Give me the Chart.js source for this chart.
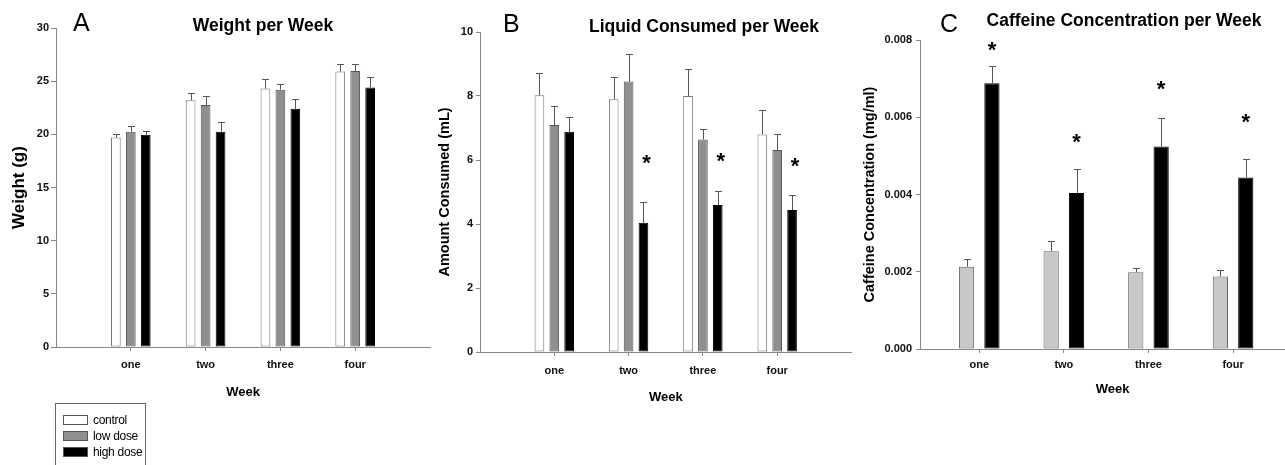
<!DOCTYPE html>
<html>
<head>
<meta charset="utf-8">
<script src="https://cdn.jsdelivr.net/npm/chart.js@4.4.1/dist/chart.umd.min.js"></script>
<style>
  body { margin: 0; width: 1285px; height: 465px; overflow: hidden; background: #fff; position: relative; font-family: 'Liberation Sans', Arial, sans-serif; }
  canvas { position: absolute; }
  .txt { position: absolute; white-space: nowrap; line-height: 1; color: #000; }
  .title { font-weight: bold; font-size: 17.5px; transform: translateX(-50%); }
  .letter { font-size: 25px; }
  .legend { position: absolute; left: 55px; top: 403px; width: 89px; height: 75px; border: 1px solid #666; }
  .legend div { position: absolute; left: 37px; font-size: 12px; line-height: 1; white-space: nowrap; letter-spacing: -0.3px; }
  .legend span { position: absolute; left: 7px; width: 23px; height: 8px; border: 1px solid #555; }
</style>
</head>
<body>
<canvas id="chartA" width="432" height="405" style="left:0;top:0"></canvas>
<canvas id="chartB" width="425" height="410" style="left:430px;top:0"></canvas>
<canvas id="chartC" width="455" height="405" style="left:850px;top:0"></canvas>

<div class="txt letter" style="left:73px;top:10px">A</div>
<div class="txt title" style="left:263px;top:17px">Weight per Week</div>
<div class="txt letter" style="left:503px;top:11px">B</div>
<div class="txt title" style="left:704px;top:18px">Liquid Consumed per Week</div>
<div class="txt letter" style="left:940px;top:11px">C</div>
<div class="txt title" style="left:1124px;top:12px">Caffeine Concentration per Week</div>

<div class="legend">
  <span style="top:11px;background:#fff"></span><div style="top:10px">control</div>
  <span style="top:27px;background:#8f8f8f"></span><div style="top:26px">low dose</div>
  <span style="top:43px;background:#000"></span><div style="top:42px">high dose</div>
</div>

<script>
// Weeks on the x axis
const weeks = ["one", "two", "three", "four"];

// A - weight (g)
const weightControl = [19.7, 23.2, 24.3, 25.9];
const weightControlErr = [0.3, 0.7, 0.95, 0.75];
const weightLow = [20.25, 22.75, 24.2, 25.95];
const weightLowErr = [0.55, 0.85, 0.55, 0.7];
const weightHigh = [19.95, 20.25, 22.4, 24.4];
const weightHighErr = [0.4, 0.95, 0.95, 0.95];
const weightTicks = [0, 5, 10, 15, 20, 25, 30];

// B - liquid consumed (mL)
const liquidControl = [8.02, 7.9, 8.0, 6.8];
const liquidControlErr = [0.7, 0.7, 0.83, 0.77];
const liquidLow = [7.09, 8.45, 6.64, 6.31];
const liquidLowErr = [0.6, 0.87, 0.34, 0.51];
const liquidHigh = [6.88, 4.04, 4.59, 4.44];
const liquidHighErr = [0.45, 0.65, 0.45, 0.47];
const liquidStars = [null, 6.02, 6.08, 5.91];
const liquidTicks = [0, 2, 4, 6, 8, 10];

// C - caffeine concentration (mg/ml)
const caffControl = [0.00213, 0.00253, 0.00199, 0.00188];
const caffControlErr = [0.00019, 0.00027, 0.0001, 0.00016];
const caffHigh = [0.00688, 0.00404, 0.00524, 0.00444];
const caffHighErr = [0.00045, 0.00063, 0.00075, 0.00047];
const caffStars = [0.00783, 0.00546, 0.00683, 0.00598];
const caffTicks = [0, 0.002, 0.004, 0.006, 0.008];

const tickFont = { family: "'Liberation Sans', sans-serif", size: 11, weight: "bold" };

// error bars (upper half only) and significance stars
const errorBars = {
  id: "errorBars",
  afterDatasetsDraw(chart, args, opts) {
    const ctx = chart.ctx;
    const y = chart.scales.y;
    ctx.save();
    ctx.strokeStyle = "#555";
    ctx.lineWidth = 1;
    chart.data.datasets.forEach((ds, di) => {
      chart.getDatasetMeta(di).data.forEach((bar, i) => {
        const x = Math.round(bar.x) + 0.5;
        const top = Math.round(y.getPixelForValue(ds.data[i].y + ds.errors[i])) + 0.5;
        ctx.beginPath();
        ctx.moveTo(x, bar.y);
        ctx.lineTo(x, top);
        ctx.moveTo(x - 3.5, top);
        ctx.lineTo(x + 3.5, top);
        ctx.stroke();
      });
    });
    if (opts.stars) {
      const meta = chart.getDatasetMeta(opts.starDataset);
      ctx.fillStyle = "#000";
      ctx.font = "bold 22px 'Liberation Sans', sans-serif";
      ctx.textAlign = "center";
      ctx.textBaseline = "alphabetic";
      const m = ctx.measureText("*");
      const half = (m.actualBoundingBoxAscent - m.actualBoundingBoxDescent) / 2;
      opts.stars.forEach((v, i) => {
        if (v === null) return;
        ctx.fillText("*", meta.data[i].x + opts.starOffset, y.getPixelForValue(v) + half);
      });
    }
    ctx.restore();
  }
};

function series(label, values, errors, fill, border) {
  return {
    label: label,
    data: values.map((v, i) => ({ x: i + 1, y: v })),
    errors: errors,
    backgroundColor: fill,
    borderColor: border,
    borderWidth: 1,
    borderSkipped: false,
    categoryPercentage: 0.6,
    barPercentage: 0.65
  };
}

function makeChart(id, datasets, p) {
  new Chart(document.getElementById(id), {
    type: "bar",
    data: { datasets: datasets },
    plugins: [errorBars],
    options: {
      responsive: false,
      animation: false,
      layout: { padding: { top: p.top, right: p.right, left: 0, bottom: 0 } },
      plugins: {
        legend: { display: false },
        tooltip: { enabled: false },
        errorBars: { stars: p.stars, starDataset: datasets.length - 1, starOffset: p.starOffset }
      },
      scales: {
        x: {
          type: "linear",
          offset: false,
          min: p.xMin,
          max: p.xMax,
          afterBuildTicks: axis => { axis.ticks = weeks.map((w, i) => ({ value: i + 1 })); },
          afterFit: axis => { axis.height = p.xHeight; },
          ticks: { callback: v => weeks[v - 1], color: "#111", font: tickFont, padding: p.xPad, maxRotation: 0 },
          grid: { offset: false, drawOnChartArea: false, tickLength: 4, color: "#888" },
          border: { color: "#888" },
          title: { display: true, text: "Week", color: "#000", font: { family: "'Liberation Sans', sans-serif", size: 13, weight: "bold" }, padding: { top: 0, bottom: p.weekPad } }
        },
        y: {
          min: p.yTicks[0],
          max: p.yTicks[p.yTicks.length - 1],
          afterBuildTicks: axis => { axis.ticks = p.yTicks.map(v => ({ value: v })); },
          afterFit: axis => { axis.width = p.yWidth; },
          ticks: { callback: p.yFormat, color: "#111", font: tickFont, padding: p.yPad },
          grid: { drawOnChartArea: false, tickLength: p.yTick, color: "#888" },
          border: { color: "#888" },
          title: { display: true, text: p.yTitle, color: "#000", font: { family: "'Liberation Sans', sans-serif", size: p.yTitleSize, weight: "bold" }, padding: { top: p.yTitlePad, bottom: 0 } }
        }
      }
    }
  });
}

makeChart("chartA", [
  series("control", weightControl, weightControlErr, "#ffffff", "#777"),
  series("low dose", weightLow, weightLowErr, "#8f8f8f", "#555"),
  series("high dose", weightHigh, weightHighErr, "#000000", "#000")
], {
  top: 28, right: 2, xMin: 0, xMax: 5, xHeight: 58, xPad: 7, weekPad: 5,
  yTicks: weightTicks, yFormat: v => v, yWidth: 56, yPad: 2, yTick: 5,
  yTitle: "Weight (g)", yTitleSize: 17, yTitlePad: 9
});

makeChart("chartB", [
  series("control", liquidControl, liquidControlErr, "#ffffff", "#777"),
  series("low dose", liquidLow, liquidLowErr, "#8f8f8f", "#555"),
  series("high dose", liquidHigh, liquidHighErr, "#000000", "#000")
], {
  top: 32, right: 3.5, xMin: 0, xMax: 5, xHeight: 58, xPad: 8, weekPad: 5,
  yTicks: liquidTicks, yFormat: v => v, yWidth: 50, yPad: 3, yTick: 4,
  yTitle: "Amount Consumed (mL)", yTitleSize: 14.5, yTitlePad: 6,
  stars: liquidStars, starOffset: 3
});

const cControl = series("control", caffControl, caffControlErr, "#c8c8c8", "#666");
const cHigh = series("high dose", caffHigh, caffHighErr, "#000000", "#000");
cControl.barPercentage = 0.6;
cHigh.barPercentage = 0.6;
makeChart("chartC", [cControl, cHigh], {
  top: 40, right: 0, xMin: 0.3, xMax: 4.85, xHeight: 56, xPad: 5, weekPad: 8,
  yTicks: caffTicks, yFormat: v => v.toFixed(3), yWidth: 70, yPad: 4, yTick: 4,
  yTitle: "Caffeine Concentration (mg/ml)", yTitleSize: 14.5, yTitlePad: 11,
  stars: caffStars, starOffset: 0
});
</script>
</body>
</html>
